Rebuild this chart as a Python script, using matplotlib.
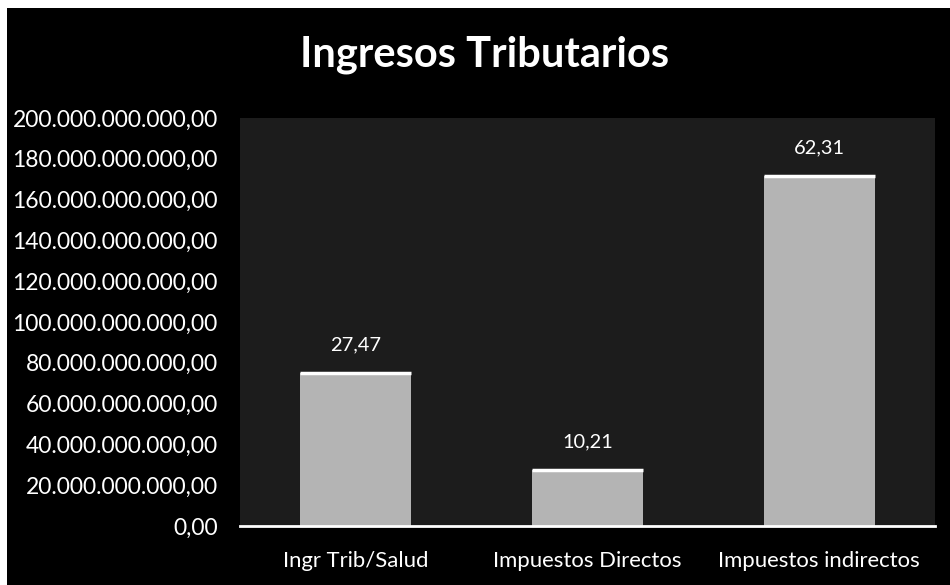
import matplotlib
matplotlib.use("Agg")
import matplotlib.pyplot as plt
from matplotlib.ticker import FuncFormatter

categories = ["Ingr Trib/Salud", "Impuestos Directos", "Impuestos indirectos"]
values = [75.0e9, 27.5e9, 171.5e9]
bar_labels = ["27,47", "10,21", "62,31"]
yticks = [0, 20e9, 40e9, 60e9, 80e9, 100e9, 120e9, 140e9, 160e9, 180e9, 200e9]

FONT = ["Lato", "DejaVu Sans"]
plt.rcParams["font.family"] = FONT

fig = plt.figure(figsize=(9.5, 5.85), dpi=100, facecolor="white")
# black chart background with thin white margin top/left like the scan
bg = fig.add_axes([7 / 950, 0, 1 - 7 / 950, 1 - 8 / 585])
bg.set_facecolor("black")
bg.set_xticks([]); bg.set_yticks([])
for s in bg.spines.values():
    s.set_visible(False)

ax = fig.add_axes([240 / 950, 1 - 526 / 585, (935 - 240) / 950, (526 - 118) / 585])
ax.set_facecolor("#1c1c1c")
x = range(len(categories))
bars = ax.bar(x, values, width=0.48, color="#b4b4b4", edgecolor="none", zorder=2)
for b in bars:
    ax.plot([b.get_x(), b.get_x() + b.get_width()], [b.get_height()] * 2,
            color="white", lw=2.5, solid_capstyle="butt", zorder=3)
for b, lab in zip(bars, bar_labels):
    ax.annotate(lab, (b.get_x() + b.get_width() / 2, b.get_height()),
                xytext=(0, 14), textcoords="offset points", ha="center", va="bottom",
                color="white", fontsize=14.4)

ax.set_xlim(-0.5, 2.5)
ax.set_ylim(0, 200e9)
ax.set_yticks(yticks)

def fmt(v, pos):
    s = "{:,.2f}".format(v)
    return s.replace(",", "X").replace(".", ",").replace("X", ".")

ax.yaxis.set_major_formatter(FuncFormatter(fmt))
ax.set_xticks(list(x))
ax.set_xticklabels(categories)
ax.tick_params(axis="y", length=0, pad=16, labelsize=16.5, labelcolor="white")
ax.tick_params(axis="x", length=0, pad=18, labelsize=15.9, labelcolor="white")
for k, s in ax.spines.items():
    s.set_visible(k == "bottom")
ax.spines["bottom"].set_color("white")
ax.spines["bottom"].set_linewidth(2)

fig.text(485 / 950, 1 - 55 / 585, "Ingresos Tributarios", ha="center", va="center",
         color="white", fontsize=30, fontweight="bold")

fig.savefig("out.png", dpi=100, facecolor=fig.get_facecolor())
